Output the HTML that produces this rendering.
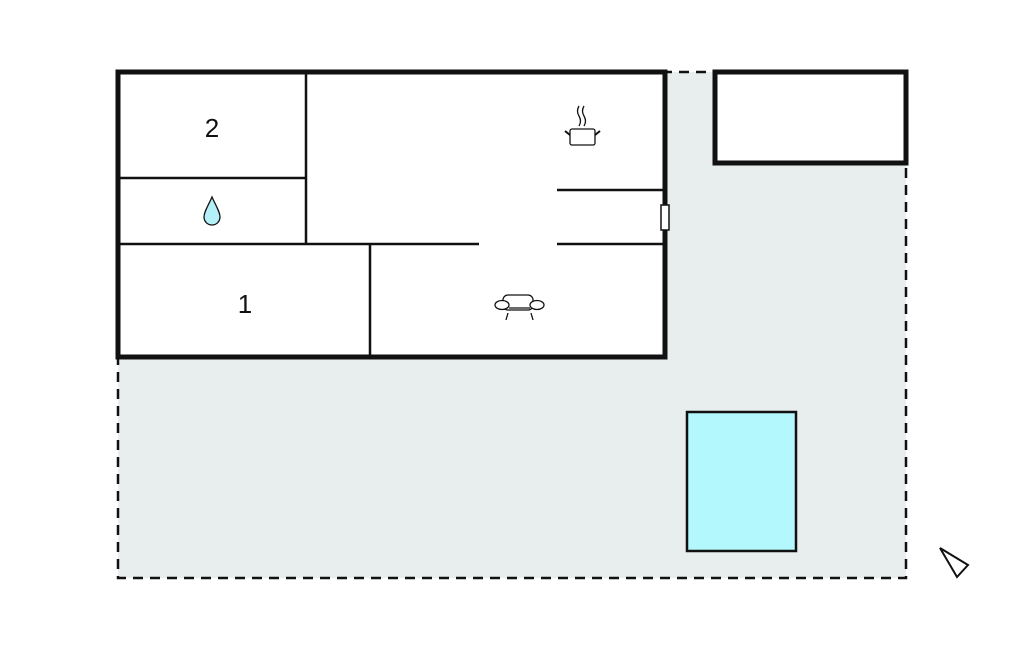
<!DOCTYPE html>
<html><head><meta charset="utf-8"><style>
html,body{margin:0;padding:0;background:#fff;width:1024px;height:652px;overflow:hidden}
</style></head><body>
<svg width="1024" height="652" viewBox="0 0 1024 652" xmlns="http://www.w3.org/2000/svg">
<rect x="118" y="72" width="788" height="506" fill="#e8eeee"/>
<rect x="118" y="72" width="788" height="506" fill="none" stroke="#111" stroke-width="2.5" stroke-dasharray="10,7"/>
<rect x="118" y="72" width="547" height="285" fill="#fff" stroke="#111" stroke-width="5"/>
<rect x="715" y="72" width="191" height="91" fill="#fff" stroke="#111" stroke-width="5"/>
<g stroke="#111" stroke-width="2.5" fill="none">
<line x1="306" y1="72" x2="306" y2="244"/>
<line x1="118" y1="178" x2="306" y2="178"/>
<line x1="118" y1="244" x2="479" y2="244"/>
<line x1="370" y1="244" x2="370" y2="357"/>
<line x1="557" y1="190" x2="663" y2="190"/>
<line x1="557" y1="244" x2="663" y2="244"/>
</g>
<rect x="661" y="205" width="8" height="25" fill="#fff" stroke="#111" stroke-width="1.5"/>
<text x="212" y="137" font-family="Liberation Sans, sans-serif" font-size="26" text-anchor="middle" fill="#111">2</text>
<text x="245" y="313" font-family="Liberation Sans, sans-serif" font-size="26" text-anchor="middle" fill="#111">1</text>
<path d="M212 197 C208 206 204 212 204 217 A8 8 0 0 0 220 217 C220 212 216 206 212 197 Z" fill="#b3f0f8" stroke="#111" stroke-width="1.3"/>
<g stroke="#111" stroke-width="1.3" fill="none">
<rect x="570" y="129" width="25" height="16" rx="2" fill="#fff"/>
<line x1="565" y1="131" x2="570" y2="135" stroke-width="2"/>
<line x1="600" y1="131" x2="595" y2="135" stroke-width="2"/>
<path d="M579 106 q-3 5 0 10 q3 5 0 10"/>
<path d="M584 106 q-3 5 0 10 q3 5 0 10"/>
<rect x="503" y="295" width="30" height="15" rx="5" fill="#fff"/>
<ellipse cx="502" cy="305" rx="7" ry="4.5" fill="#fff"/>
<ellipse cx="537" cy="305" rx="7" ry="4.5" fill="#fff"/>
<line x1="509" y1="308" x2="530" y2="308"/>
<line x1="508" y1="313" x2="506" y2="320"/>
<line x1="531" y1="313" x2="533" y2="320"/>
</g>
<rect x="687" y="412" width="109" height="139" fill="#b3f8fc" stroke="#111" stroke-width="2.5"/>
<polygon points="940,548 968,565 957,577" fill="none" stroke="#111" stroke-width="2"/>
</svg>
</body></html>
